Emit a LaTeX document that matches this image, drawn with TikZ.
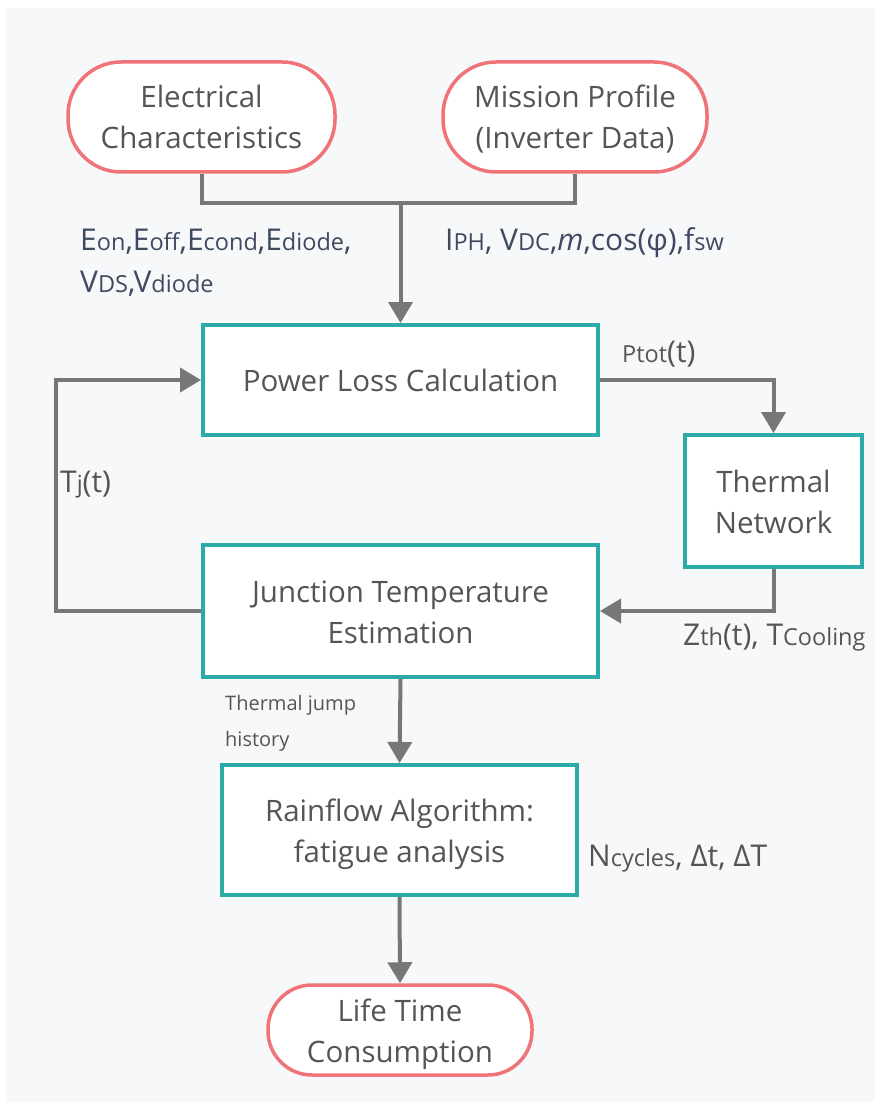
\documentclass[tikz,border=0pt]{standalone}
\usepackage{fontspec}
\setmainfont{Open Sans}
\usetikzlibrary{arrows.meta}
\definecolor{bgc}{HTML}{F7F8F9}
\definecolor{teal}{HTML}{2BAAA7}
\definecolor{salmon}{HTML}{F07377}
\definecolor{txt}{HTML}{555555}
\definecolor{slate}{HTML}{3E4A62}
\definecolor{wire}{HTML}{777777}
% smaller index letters that stay on the baseline
\newcommand\lo[1]{{\fontsize{23.5}{23.5}\selectfont #1}}
% line strut for block texts (41pt line pitch)
\newcommand\ls{\rule[-9pt]{0pt}{41pt}}
\begin{document}
\begin{tikzpicture}[x=1pt,y=-1pt,
  boxnode/.style={draw=teal,line width=4pt,fill=white,rectangle,inner sep=0pt,
    align=center,text=txt,font=\fontsize{29.5}{41}\selectfont},
  pill/.style={draw=salmon,line width=3.5pt,fill=white,rectangle,rounded corners=53pt,
    inner sep=0pt,align=center,text=txt,font=\fontsize{29.5}{41}\selectfont},
  conn/.style={draw=wire,line width=4pt},
  arr/.style={conn,-{Triangle[width=24pt,length=21pt]}},
  lbl/.style={anchor=base west,inner sep=0pt,text=txt,font=\fontsize{30}{30}\selectfont},
  slbl/.style={lbl,text=slate},
  small/.style={lbl,font=\fontsize{20}{20}\selectfont}]
\useasboundingbox (0,0) rectangle (875,1102);
\fill[white] (0,0) rectangle (875,1102);
\fill[bgc] (6,8) rectangle (875,1102);

% terminals and process blocks
\node[pill,minimum width=267pt,minimum height=110pt] (elec) at (201.5,117) {Electrical\ls\\Characteristics\ls};
\node[pill,minimum width=264pt,minimum height=110pt] (mission) at (575,117) {Mission Profile\ls\\(Inverter Data)\ls};
\node[boxnode,minimum width=395pt,minimum height=110pt] (pl) at (400.5,380) {Power Loss Calculation\ls};
\node[boxnode,minimum width=177pt,minimum height=132pt] (tn) at (773.5,501) {Thermal\ls\\Network\ls};
\node[boxnode,minimum width=395pt,minimum height=132pt] (jt) at (400.5,611) {Junction Temperature\ls\\Estimation\ls};
\node[boxnode,minimum width=355pt,minimum height=130pt] (rf) at (399.5,830) {Rainflow Algorithm:\ls\\fatigue analysis\ls};
\node[pill,rounded corners=44pt,minimum width=264pt,minimum height=90pt] (life) at (400,1030) {Life Time\ls\\Consumption\ls};

% connectors
\coordinate (join) at (400.5,203);
\coordinate (fb) at (56,611);
\draw[conn] (elec.south) |- (join) -| (mission.south);
\draw[arr] (join) -- (pl.north);
\draw[arr] (pl.east) -| (tn.north);
\draw[arr] (tn.south) |- (jt.east);
\draw[arr] (jt.west) -- (fb) |- (pl.west);
\draw[arr] (jt.south) -- (rf.north);
\draw[arr] (rf.south) -- (life.north);

% signal labels
\node[slbl] (eloss1) at (80,250) {E\lo{on},E\lo{off},E\lo{cond},E\lo{diode},};
\node[slbl] (eloss2) at (80,292) {V\lo{DS},V\lo{diode}};
\node[slbl] (mp) at (445,250) {I\lo{PH}, V\lo{DC},\textit{m},cos(φ),f\lo{sw}};
\node[lbl] (ptot) at (622,362) {\lo{Ptot}(t)};
\node[lbl] (tj) at (60,492) {T\lo{j}(t)};
\node[lbl] (zth) at (683,645) {Z\lo{th}(t), T\lo{Cooling}};
\node[small] (hist1) at (225,710) {Thermal jump};
\node[small] (hist2) at (225,746) {history};
\node[lbl] (ncyc) at (588,866) {N\lo{cycles}, Δt, ΔT};
\end{tikzpicture}
\end{document}
